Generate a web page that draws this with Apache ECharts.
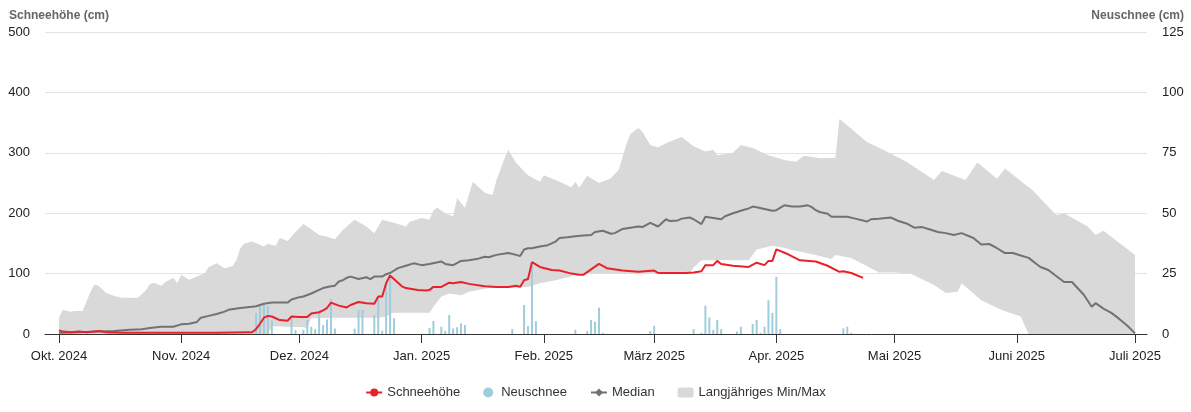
<!DOCTYPE html>
<html>
<head>
<meta charset="utf-8">
<script src="https://cdn.jsdelivr.net/npm/echarts@6/dist/echarts.min.js"></script>
<style>
html,body{margin:0;padding:0;background:#fff;}
#chart{width:1191px;height:412px;}
</style>
</head>
<body>
<div id="chart"></div>
<script>
// x positions are days since 1 Oct 2024
var monthStarts = [0, 31, 61, 92, 123, 151, 182, 212, 243, 273];
var monthLabels = ['Okt. 2024', 'Nov. 2024', 'Dez. 2024', 'Jan. 2025', 'Feb. 2025', 'März 2025', 'Apr. 2025', 'Mai 2025', 'Juni 2025', 'Juli 2025'];

// Schneehöhe (cm)
var snowDays = [0,1,3,5,7,10,12,16,24,32,40,48,49,50,51,52,53,54,56,58,59,61,63,64,66,67,68,69,71,73,74,76,78,80,81,82,83,84,86,87,88,91,93,94,95,97,99,100,102,104,108,111,114,116,117,118,119,120,122,125,127,130,132,133,135,137,139,143,147,151,152,159,161,163,164,166,167,168,171,175,177,179,180,181,182,185,188,192,195,198,199,201,204];
var snowVals = [6,4,3,4,3,5,3,2,2,2,2,3,3,8,17,27,30,29,23,22,29,28,28,34,36,39,43,52,47,44,48,53,51,50,62,62,84,97,85,79,76,73,72,73,78,78,85,84,86,83,79,78,78,80,78,89,91,119,111,106,105,100,98,98,107,116,109,105,103,105,101,101,102,104,114,114,121,116,113,111,118,114,121,121,140,132,122,120,113,103,104,101,93];

// Neuschnee (cm)
var newDays = [50,51,52,53,54,59,60,62,63,64,65,66,67,68,69,70,75,76,77,80,81,82,83,84,85,94,95,97,98,99,100,101,102,103,115,118,119,120,121,131,134,135,136,137,138,150,151,161,163,164,165,166,167,168,172,173,176,177,178,179,180,181,182,183,199,200,201];
var newVals = [8.7,11.6,12,11.6,5.5,6.2,1.6,1.7,5.8,3,2,8.5,3.7,6,14.5,2.3,2.2,10,10,7.9,14.8,1.4,21,23.5,6.5,2.5,5.4,3,1.2,7.9,2.3,2.8,4.4,3.7,2,12,3.3,28.5,5.3,1.8,1.2,5.8,5.1,10.9,0.5,1.2,3.3,2,0.5,11.7,6.8,1.7,5.8,2,1,3,4.1,5.8,0.5,3,14,8.8,23.7,2,2.3,3,0.5];

// Median (cm)
var medDays = [0,5,10,14,18,21,23,26,29,31,33,35,36,38,40,42,43,46,49,50,52,54,56,58,59,61,62,64,66,67,69,70,71,72,73,74,76,78,79,80,82,83,84,86,88,90,92,94,97,98,100,102,104,106,108,109,111,114,116,117,118,119,120,122,124,125,126,127,129,131,133,135,136,138,140,141,143,145,147,148,150,152,154,155,157,158,160,161,163,164,166,168,169,171,173,175,176,177,179,181,182,184,186,188,190,191,192,193,195,196,198,200,202,204,205,206,208,211,212,213,215,217,219,221,223,225,227,229,232,234,236,238,240,242,244,246,248,249,251,253,255,257,259,260,262,263,265,267,269,271,273];
var medVals = [2,3,4,5,7,8,10,12,12,16,17,20,27,30,33,37,40,43,45,46,50,52,52,52,57,61,62,67,73,76,79,80,87,89,93,95,91,94,91,95,95,99,101,109,113,117,114,116,120,116,114,121,122,124,128,127,131,134,131,129,140,142,142,145,147,150,153,159,160,162,163,164,169,171,166,167,174,176,178,177,184,178,190,187,188,191,193,190,182,194,192,190,195,200,204,208,211,210,207,204,205,213,211,211,213,210,205,202,199,194,194,194,191,188,186,190,191,193,190,187,183,176,177,173,169,167,164,167,159,148,149,142,134,134,130,126,116,111,106,96,86,86,72,65,45,51,42,35,25,14,1];

// Langjähriges Max (cm)
var maxDays = [0,1,3,4,6,8,9,10,12,14,16,20,22,23,24,26,27,29,30,31,33,35,37,38,40,42,44,45,46,47,49,52,53,55,56,58,60,62,63,66,68,70,72,75,78,80,82,85,88,89,92,94,95,96,98,100,101,103,105,108,110,111,113,114,116,119,122,123,127,130,131,132,134,137,139,140,142,144,145,147,148,150,152,154,156,158,161,164,166,167,171,173,176,180,184,187,189,193,197,198,201,205,210,215,222,224,230,233,238,240,247,253,255,261,263,265,273];
var maxVals = [27,40,37,38,38,70,82,80,68,63,60,60,72,82,85,80,86,93,84,98,90,95,101,111,117,109,112,122,142,150,153,145,149,146,159,154,169,182,178,164,161,157,172,189,178,167,189,184,178,186,192,189,205,209,200,195,225,209,252,234,230,255,290,305,283,263,252,263,252,243,252,242,262,250,255,258,272,315,331,341,335,313,309,316,321,326,311,302,305,296,300,313,308,296,288,285,295,291,292,356,340,318,302,285,255,270,255,284,257,274,238,197,200,178,164,171,131];

// Langjähriges Min (cm)
var minDays = [0,53,54,58,62,63,64,70,75,80,83,84,85,94,95,97,99,102,104,109,114,119,122,126,130,131,160,161,163,175,177,181,184,186,192,196,197,201,206,208,212,216,222,225,228,229,234,239,244,246,273];
var minVals = [0,0,13,12,11,10,26,27,27,27,28,33,35,35,45,62,67,64,70,76,76,78,84,89,95,100,100,110,122,122,140,146,143,139,131,124,131,126,109,102,102,100,81,68,70,84,56,40,29,0,0];

function zip(a, b) { return a.map(function (d, i) { return [d, b[i]]; }); }

var FONT = 'Liberation Sans, Arial, Helvetica, sans-serif';
var chart = echarts.init(document.getElementById('chart'), null, { renderer: 'canvas' });
chart.setOption({
  animation: false,
  textStyle: { fontFamily: FONT },
  title: [
    { text: 'Schneehöhe (cm)', left: 9, top: 10, padding: 0, textStyle: { fontSize: 12, fontWeight: 'bold', color: '#666', fontFamily: FONT } },
    { text: 'Neuschnee (cm)', right: 7, top: 10, padding: 0, textStyle: { fontSize: 12, fontWeight: 'bold', color: '#666', fontFamily: FONT } }
  ],
  grid: { left: 45, right: 44, top: 32, bottom: 78 },
  legend: {
    top: 381,
    left: 'center',
    itemGap: 23,
    itemWidth: 16,
    itemHeight: 10,
    textStyle: { fontSize: 13, color: '#333', fontFamily: FONT },
    data: [
      { name: 'Schneehöhe' },
      { name: 'Neuschnee', icon: 'circle' },
      { name: 'Median' },
      { name: 'Langjähriges Min/Max', icon: 'roundRect' }
    ]
  },
  xAxis: {
    type: 'value',
    min: -3.55,
    max: 276.04,
    splitLine: { show: false },
    axisLine: { lineStyle: { color: '#333', width: 1 } },
    axisTick: { show: true, length: 9, customValues: monthStarts, lineStyle: { color: '#333' } },
    axisLabel: {
      customValues: monthStarts,
      margin: 16,
      fontSize: 13,
      color: '#222',
      fontFamily: FONT,
      formatter: function (v) { var i = monthStarts.indexOf(v); return i >= 0 ? monthLabels[i] : ''; }
    }
  },
  yAxis: [
    {
      type: 'value', min: 0, max: 500, interval: 100,
      axisLine: { show: false }, axisTick: { show: false },
      axisLabel: { fontSize: 13, color: '#222', margin: 15, fontFamily: FONT },
      splitLine: { lineStyle: { color: '#e3e3e3' } }
    },
    {
      type: 'value', min: 0, max: 125, interval: 25,
      axisLine: { show: false }, axisTick: { show: false },
      axisLabel: { fontSize: 13, color: '#222', margin: 15, fontFamily: FONT },
      splitLine: { show: false }
    }
  ],
  series: [
    {
      name: 'Langjähriges Min/Max',
      type: 'custom',
      xAxisIndex: 0, yAxisIndex: 0,
      z: 1,
      silent: true,
      itemStyle: { color: '#d9d9d9' },
      data: [[0, 0]],
      renderItem: function (params, api) {
        if (params.dataIndex !== 0) return null;
        var pts = [];
        for (var i = 0; i < maxDays.length; i++) pts.push(api.coord([maxDays[i], maxVals[i]]));
        for (var j = minDays.length - 1; j >= 0; j--) pts.push(api.coord([minDays[j], minVals[j]]));
        return { type: 'polygon', shape: { points: pts }, style: { fill: '#d9d9d9' } };
      }
    },
    {
      name: 'Neuschnee',
      type: 'bar',
      yAxisIndex: 1,
      z: 2,
      barWidth: 2,
      itemStyle: { color: '#9fcddb' },
      data: zip(newDays, newVals)
    },
    {
      name: 'Median',
      type: 'line',
      z: 3,
      symbol: 'diamond',
      symbolSize: 8,
      showSymbol: false,
      lineStyle: { color: '#727272', width: 2 },
      itemStyle: { color: '#727272' },
      data: zip(medDays, medVals)
    },
    {
      name: 'Schneehöhe',
      type: 'line',
      z: 4,
      symbol: 'circle',
      symbolSize: 8,
      showSymbol: false,
      lineStyle: { color: '#e8212b', width: 2 },
      itemStyle: { color: '#e8212b' },
      data: zip(snowDays, snowVals)
    }
  ]
});
</script>
</body>
</html>
